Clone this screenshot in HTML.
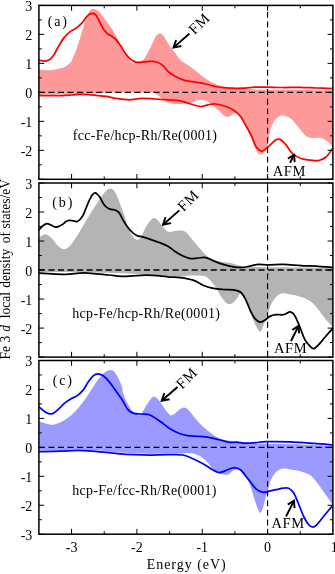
<!DOCTYPE html>
<html><head><meta charset="utf-8"><style>
html,body{margin:0;padding:0;background:#fff;}
svg{display:block;font-family:"Liberation Serif",serif;will-change:transform;}
</style></head><body>
<svg width="335" height="574" viewBox="0 0 335 574">
<rect width="335" height="574" fill="#fff"/>
<clipPath id="clipa"><rect x="38.90" y="5.40" width="294.00" height="173.90"/></clipPath>
<g clip-path="url(#clipa)">
<path d="M38.90,69.70 C40.77,69.78 46.13,70.53 50.10,70.20 C54.07,69.87 59.35,68.95 62.70,67.70 C66.05,66.45 68.48,64.40 70.20,62.70 C71.92,61.00 72.03,59.52 73.00,57.50 C73.97,55.48 74.90,53.55 76.00,50.60 C77.10,47.65 78.40,43.68 79.60,39.80 C80.80,35.92 82.00,31.18 83.20,27.30 C84.40,23.42 85.62,19.33 86.80,16.50 C87.98,13.67 89.12,11.55 90.30,10.30 C91.48,9.05 92.70,8.97 93.90,9.00 C95.10,9.03 96.32,9.68 97.50,10.50 C98.68,11.32 99.20,11.70 101.00,13.90 C102.80,16.10 105.90,20.27 108.30,23.70 C110.70,27.13 113.32,30.92 115.40,34.50 C117.48,38.08 119.00,41.62 120.80,45.20 C122.60,48.78 124.40,53.17 126.20,56.00 C128.00,58.83 129.63,61.28 131.60,62.20 C133.57,63.12 136.10,61.87 138.00,61.50 C139.90,61.13 141.50,61.25 143.00,60.00 C144.50,58.75 145.55,56.50 147.00,54.00 C148.45,51.50 150.37,47.75 151.70,45.00 C153.03,42.25 154.03,39.25 155.00,37.50 C155.97,35.75 156.67,35.15 157.50,34.50 C158.33,33.85 159.17,33.55 160.00,33.60 C160.83,33.65 161.67,34.07 162.50,34.80 C163.33,35.53 164.08,36.55 165.00,38.00 C165.92,39.45 166.67,41.50 168.00,43.50 C169.33,45.50 170.92,47.25 173.00,50.00 C175.08,52.75 178.00,57.50 180.50,60.00 C183.00,62.50 185.08,62.88 188.00,65.00 C190.92,67.12 194.67,70.20 198.00,72.70 C201.33,75.20 204.67,77.95 208.00,80.00 C211.33,82.05 213.83,83.72 218.00,85.00 C222.17,86.28 227.33,87.00 233.00,87.70 C238.67,88.40 245.83,88.82 252.00,89.20 C258.17,89.58 262.00,89.87 270.00,90.00 C278.00,90.13 289.52,89.93 300.00,90.00 C310.48,90.07 327.42,90.33 332.90,90.40 L332.90,92.35 L38.90,92.35 Z" fill="#fd9999"/>
<path d="M38.90,94.80 C46.42,94.63 72.98,94.10 84.00,93.80 C95.02,93.50 99.83,93.22 105.00,93.00 C110.17,92.78 107.50,92.58 115.00,92.50 C122.50,92.42 143.33,92.33 150.00,92.50 C156.67,92.67 153.33,92.75 155.00,93.50 C156.67,94.25 158.17,95.67 160.00,97.00 C161.83,98.33 164.00,100.42 166.00,101.50 C168.00,102.58 169.67,103.08 172.00,103.50 C174.33,103.92 177.00,104.08 180.00,104.00 C183.00,103.92 187.33,103.58 190.00,103.00 C192.67,102.42 193.50,100.92 196.00,100.50 C198.50,100.08 202.50,99.92 205.00,100.50 C207.50,101.08 208.83,102.42 211.00,104.00 C213.17,105.58 215.55,107.90 218.00,110.00 C220.45,112.10 223.58,115.63 225.70,116.60 C227.82,117.57 229.03,116.43 230.70,115.80 C232.37,115.17 234.03,112.60 235.70,112.80 C237.37,113.00 239.03,114.80 240.70,117.00 C242.37,119.20 243.98,122.67 245.70,126.00 C247.42,129.33 249.28,133.00 251.00,137.00 C252.72,141.00 254.67,147.12 256.00,150.00 C257.33,152.88 257.92,153.72 259.00,154.30 C260.08,154.88 261.42,154.22 262.50,153.50 C263.58,152.78 264.67,151.42 265.50,150.00 C266.33,148.58 266.92,147.07 267.50,145.00 C268.08,142.93 268.42,140.50 269.00,137.60 C269.58,134.70 269.83,130.73 271.00,127.60 C272.17,124.47 274.12,120.82 276.00,118.80 C277.88,116.78 279.80,115.50 282.30,115.50 C284.80,115.50 288.28,116.78 291.00,118.80 C293.72,120.82 296.27,124.90 298.60,127.60 C300.93,130.30 302.93,133.27 305.00,135.00 C307.07,136.73 308.33,137.50 311.00,138.00 C313.67,138.50 318.05,137.23 321.00,138.00 C323.95,138.77 326.75,141.00 328.70,142.60 C330.65,144.20 332.03,146.77 332.70,147.60 L332.70,92.35 L38.90,92.35 Z" fill="#fd9999"/>
<path d="M38.90,60.20 C39.75,60.37 42.32,61.23 44.00,61.20 C45.68,61.17 47.42,60.95 49.00,60.00 C50.58,59.05 52.02,57.58 53.50,55.50 C54.98,53.42 56.17,50.43 57.90,47.50 C59.63,44.57 61.90,40.50 63.90,37.90 C65.90,35.30 67.88,33.52 69.90,31.90 C71.92,30.28 74.08,29.57 76.00,28.20 C77.92,26.83 79.60,25.65 81.40,23.70 C83.20,21.75 85.32,18.13 86.80,16.50 C88.28,14.87 89.27,14.43 90.30,13.90 C91.33,13.37 92.10,13.15 93.00,13.30 C93.90,13.45 94.65,13.52 95.70,14.80 C96.75,16.08 98.10,18.77 99.30,21.00 C100.50,23.23 101.55,26.10 102.90,28.20 C104.25,30.30 105.92,32.25 107.40,33.60 C108.88,34.95 110.32,35.27 111.80,36.30 C113.28,37.33 114.80,38.17 116.30,39.80 C117.80,41.43 119.30,43.85 120.80,46.10 C122.30,48.35 123.80,51.20 125.30,53.30 C126.80,55.40 128.02,57.22 129.80,58.70 C131.58,60.18 133.97,61.62 136.00,62.20 C138.03,62.78 139.83,62.33 142.00,62.20 C144.17,62.07 146.55,61.43 149.00,61.40 C151.45,61.37 154.20,61.17 156.70,62.00 C159.20,62.83 162.12,64.82 164.00,66.40 C165.88,67.98 166.08,69.82 168.00,71.50 C169.92,73.18 172.58,74.97 175.50,76.50 C178.42,78.03 182.15,79.75 185.50,80.70 C188.85,81.65 192.25,81.65 195.60,82.20 C198.95,82.75 201.87,83.20 205.60,84.00 C209.33,84.80 213.82,86.30 218.00,87.00 C222.18,87.70 226.53,88.00 230.70,88.20 C234.87,88.40 239.45,88.35 243.00,88.20 C246.55,88.05 248.17,87.48 252.00,87.30 C255.83,87.12 260.83,87.07 266.00,87.10 C271.17,87.13 277.33,87.47 283.00,87.50 C288.67,87.53 294.50,87.22 300.00,87.30 C305.50,87.38 310.52,87.78 316.00,88.00 C321.48,88.22 330.08,88.50 332.90,88.60" fill="none" stroke="#ff0000" stroke-width="1.75" stroke-linejoin="round"/>
<path d="M38.90,95.60 C40.75,95.62 46.15,95.70 50.00,95.70 C53.85,95.70 58.33,95.72 62.00,95.60 C65.67,95.48 69.00,95.20 72.00,95.00 C75.00,94.80 77.33,94.47 80.00,94.40 C82.67,94.33 85.33,94.45 88.00,94.60 C90.67,94.75 93.00,95.00 96.00,95.30 C99.00,95.60 102.57,95.87 106.00,96.40 C109.43,96.93 112.77,97.93 116.60,98.50 C120.43,99.07 124.82,99.83 129.00,99.80 C133.18,99.77 137.37,98.43 141.70,98.30 C146.03,98.17 150.62,98.75 155.00,99.00 C159.38,99.25 163.75,99.50 168.00,99.80 C172.25,100.10 176.73,100.10 180.50,100.80 C184.27,101.50 187.25,103.05 190.60,104.00 C193.95,104.95 197.70,106.37 200.60,106.50 C203.50,106.63 205.50,105.22 208.00,104.80 C210.50,104.38 212.65,103.72 215.60,104.00 C218.55,104.28 222.80,105.53 225.70,106.50 C228.60,107.47 230.50,108.12 233.00,109.80 C235.50,111.48 238.58,114.02 240.70,116.60 C242.82,119.18 243.98,122.23 245.70,125.30 C247.42,128.37 249.28,131.48 251.00,135.00 C252.72,138.52 254.12,143.73 256.00,146.40 C257.88,149.07 260.22,151.00 262.30,151.00 C264.38,151.00 266.22,148.27 268.50,146.40 C270.78,144.53 274.08,140.97 276.00,139.80 C277.92,138.63 278.33,138.55 280.00,139.40 C281.67,140.25 283.93,142.52 286.00,144.90 C288.07,147.28 289.90,151.43 292.40,153.70 C294.90,155.97 297.90,157.42 301.00,158.50 C304.10,159.58 308.05,159.87 311.00,160.20 C313.95,160.53 316.20,161.03 318.70,160.50 C321.20,159.97 323.63,159.08 326.00,157.00 C328.37,154.92 331.75,149.50 332.90,148.00" fill="none" stroke="#ff0000" stroke-width="1.75" stroke-linejoin="round"/>
</g>
<path d="M38.90,92.35 H332.90" stroke="#000" stroke-width="1.1" stroke-dasharray="6,3.55" fill="none"/>
<path d="M267.57,5.40 V179.30" stroke="#000" stroke-width="1.15" stroke-dasharray="5.9,3.75" stroke-dashoffset="3.15" fill="none"/>
<path d="M38.90,5.40h5.30M332.90,5.40h-5.30M38.90,19.89h2.90M332.90,19.89h-2.90M38.90,34.38h5.30M332.90,34.38h-5.30M38.90,48.88h2.90M332.90,48.88h-2.90M38.90,63.37h5.30M332.90,63.37h-5.30M38.90,77.86h2.90M332.90,77.86h-2.90M38.90,92.35h5.30M332.90,92.35h-5.30M38.90,106.84h2.90M332.90,106.84h-2.90M38.90,121.33h5.30M332.90,121.33h-5.30M38.90,135.83h2.90M332.90,135.83h-2.90M38.90,150.32h5.30M332.90,150.32h-5.30M38.90,164.81h2.90M332.90,164.81h-2.90M38.90,179.30h5.30M332.90,179.30h-5.30M71.57,5.40v5.30M71.57,179.30v-5.30M104.23,5.40v2.90M104.23,179.30v-2.90M136.90,5.40v5.30M136.90,179.30v-5.30M169.57,5.40v2.90M169.57,179.30v-2.90M202.23,5.40v5.30M202.23,179.30v-5.30M234.90,5.40v2.90M234.90,179.30v-2.90M267.57,5.40v5.30M267.57,179.30v-5.30M300.23,5.40v2.90M300.23,179.30v-2.90" stroke="#000" stroke-width="1" fill="none"/>
<rect x="38.90" y="5.40" width="294.00" height="173.90" fill="none" stroke="#000" stroke-width="1.5"/>
<text x="32.3" y="11.20" font-size="14" text-anchor="end">3</text>
<text x="32.3" y="40.18" font-size="14" text-anchor="end">2</text>
<text x="32.3" y="69.17" font-size="14" text-anchor="end">1</text>
<text x="32.3" y="98.15" font-size="14" text-anchor="end">0</text>
<text x="32.3" y="127.13" font-size="14" text-anchor="end">-1</text>
<text x="32.3" y="156.12" font-size="14" text-anchor="end">-2</text>
<text x="47.70" y="25.50" font-size="14" letter-spacing="1.9">(a)</text>
<text x="72.70" y="139.50" font-size="14" textLength="144.3" lengthAdjust="spacing">fcc-Fe/hcp-Rh/Re(0001)</text>
<text x="272.80" y="175.80" font-size="14.5" textLength="32.6" lengthAdjust="spacing">AFM</text>
<path d="M290.00,162.70L294.20,154.80" stroke="#000" stroke-width="1.9" fill="none"/><path d="M294.60,162.15L294.20,154.80L287.89,158.58" stroke="#000" stroke-width="1.9" fill="none" stroke-linejoin="miter"/>
<path d="M189.30,33.80L173.50,47.60" stroke="#000" stroke-width="1.9" fill="none"/><path d="M176.14,39.98L173.50,47.60L181.40,46.01" stroke="#000" stroke-width="1.9" fill="none" stroke-linejoin="miter"/>
<text transform="translate(202.70,27.10) rotate(-45)" font-size="15" text-anchor="middle" letter-spacing="0.8">FM</text>
<clipPath id="clipb"><rect x="38.90" y="183.00" width="294.00" height="174.10"/></clipPath>
<g clip-path="url(#clipb)">
<path d="M38.90,238.00 C39.92,237.38 42.92,234.30 45.00,234.30 C47.08,234.30 49.28,236.13 51.40,238.00 C53.52,239.87 55.60,243.62 57.70,245.50 C59.80,247.38 61.92,249.30 64.00,249.30 C66.08,249.30 68.12,247.58 70.20,245.50 C72.28,243.42 74.20,240.35 76.50,236.80 C78.80,233.25 81.50,228.38 84.00,224.20 C86.50,220.02 89.00,215.67 91.50,211.70 C94.00,207.73 96.83,203.60 99.00,200.40 C101.17,197.20 103.00,194.35 104.50,192.50 C106.00,190.65 106.97,189.97 108.00,189.30 C109.03,188.63 109.78,188.38 110.70,188.50 C111.62,188.62 112.62,189.08 113.50,190.00 C114.38,190.92 115.22,192.50 116.00,194.00 C116.78,195.50 117.20,196.50 118.20,199.00 C119.20,201.50 120.87,205.92 122.00,209.00 C123.13,212.08 124.02,214.55 125.00,217.50 C125.98,220.45 126.58,223.48 127.90,226.70 C129.22,229.92 131.43,234.62 132.90,236.80 C134.37,238.98 135.45,239.60 136.70,239.80 C137.95,240.00 138.95,239.97 140.40,238.00 C141.85,236.03 143.73,230.92 145.40,228.00 C147.07,225.08 148.93,222.17 150.40,220.50 C151.87,218.83 152.93,218.00 154.20,218.00 C155.47,218.00 156.53,219.05 158.00,220.50 C159.47,221.95 161.33,224.82 163.00,226.70 C164.67,228.58 165.50,231.17 168.00,231.80 C170.50,232.43 175.08,230.50 178.00,230.50 C180.92,230.50 183.00,230.13 185.50,231.80 C188.00,233.47 190.48,237.58 193.00,240.50 C195.52,243.42 198.10,246.58 200.60,249.30 C203.10,252.02 205.10,254.80 208.00,256.80 C210.90,258.80 214.22,260.25 218.00,261.30 C221.78,262.35 226.50,262.17 230.70,263.10 C234.90,264.03 239.65,266.25 243.20,266.90 C246.75,267.55 247.53,266.95 252.00,267.00 C256.47,267.05 262.00,267.13 270.00,267.20 C278.00,267.27 289.52,267.30 300.00,267.40 C310.48,267.50 327.42,267.73 332.90,267.80 L332.90,270.05 L38.90,270.05 Z" fill="#b4b4b4"/>
<path d="M38.90,272.50 C46.42,272.45 65.48,271.87 84.00,272.20 C102.52,272.53 134.00,273.78 150.00,274.50 C166.00,275.22 173.33,276.33 180.00,276.50 C186.67,276.67 186.17,275.62 190.00,275.50 C193.83,275.38 199.83,275.22 203.00,275.80 C206.17,276.38 206.90,277.13 209.00,279.00 C211.10,280.87 213.65,284.18 215.60,287.00 C217.55,289.82 218.80,293.17 220.70,295.90 C222.60,298.63 225.12,302.15 227.00,303.40 C228.88,304.65 230.33,304.23 232.00,303.40 C233.67,302.57 235.55,300.05 237.00,298.40 C238.45,296.75 239.25,293.15 240.70,293.50 C242.15,293.85 243.98,297.08 245.70,300.50 C247.42,303.92 249.28,309.75 251.00,314.00 C252.72,318.25 254.53,323.05 256.00,326.00 C257.47,328.95 258.75,331.30 259.80,331.70 C260.85,332.10 261.43,330.18 262.30,328.40 C263.17,326.62 263.97,323.73 265.00,321.00 C266.03,318.27 267.50,314.73 268.50,312.00 C269.50,309.27 269.75,307.10 271.00,304.60 C272.25,302.10 274.12,298.88 276.00,297.00 C277.88,295.12 279.80,293.70 282.30,293.30 C284.80,292.90 287.88,293.98 291.00,294.60 C294.12,295.22 297.83,295.95 301.00,297.00 C304.17,298.05 307.27,299.00 310.00,300.90 C312.73,302.80 314.90,305.48 317.40,308.40 C319.90,311.32 322.45,315.30 325.00,318.40 C327.55,321.50 331.42,325.57 332.70,327.00 L332.70,270.05 L38.90,270.05 Z" fill="#b4b4b4"/>
<path d="M38.90,230.00 C39.50,229.33 41.18,227.07 42.50,226.00 C43.82,224.93 45.38,223.77 46.80,223.60 C48.22,223.43 49.53,224.42 51.00,225.00 C52.47,225.58 54.18,226.93 55.60,227.10 C57.02,227.27 58.27,226.50 59.50,226.00 C60.73,225.50 61.92,224.85 63.00,224.10 C64.08,223.35 64.95,222.12 66.00,221.50 C67.05,220.88 68.13,220.52 69.30,220.40 C70.47,220.28 71.73,220.60 73.00,220.80 C74.27,221.00 75.73,221.82 76.90,221.60 C78.07,221.38 78.98,220.55 80.00,219.50 C81.02,218.45 82.08,216.97 83.00,215.30 C83.92,213.63 84.63,211.58 85.50,209.50 C86.37,207.42 87.12,205.17 88.20,202.80 C89.28,200.43 90.83,196.97 92.00,195.30 C93.17,193.63 93.97,192.60 95.20,192.80 C96.43,193.00 97.85,194.42 99.40,196.50 C100.95,198.58 102.82,203.22 104.50,205.30 C106.18,207.38 107.63,208.17 109.50,209.00 C111.37,209.83 114.03,209.60 115.70,210.30 C117.37,211.00 118.12,211.30 119.50,213.20 C120.88,215.10 122.18,218.82 124.00,221.70 C125.82,224.58 128.28,228.20 130.40,230.50 C132.52,232.80 134.40,234.37 136.70,235.50 C139.00,236.63 141.70,236.58 144.20,237.30 C146.70,238.02 149.20,238.93 151.70,239.80 C154.20,240.67 156.48,241.42 159.20,242.50 C161.92,243.58 165.28,244.75 168.00,246.30 C170.72,247.85 173.00,250.18 175.50,251.80 C178.00,253.42 180.48,254.87 183.00,256.00 C185.52,257.13 188.10,258.27 190.60,258.60 C193.10,258.93 195.50,258.17 198.00,258.00 C200.50,257.83 203.10,257.17 205.60,257.60 C208.10,258.03 210.10,259.47 213.00,260.60 C215.90,261.73 219.63,263.35 223.00,264.40 C226.37,265.45 229.83,266.40 233.20,266.90 C236.57,267.40 240.07,267.62 243.20,267.40 C246.33,267.18 249.45,266.10 252.00,265.60 C254.55,265.10 255.75,264.52 258.50,264.40 C261.25,264.28 264.32,264.90 268.50,264.90 C272.68,264.90 278.18,264.28 283.60,264.40 C289.02,264.52 295.60,265.32 301.00,265.60 C306.40,265.88 310.72,265.80 316.00,266.10 C321.28,266.40 329.92,267.18 332.70,267.40" fill="none" stroke="#000000" stroke-width="1.75" stroke-linejoin="round"/>
<path d="M38.90,273.10 C43.28,273.32 57.68,274.45 65.20,274.40 C72.72,274.35 76.70,272.70 84.00,272.80 C91.30,272.90 102.73,274.42 109.00,275.00 C115.27,275.58 115.32,276.27 121.60,276.30 C127.88,276.33 138.97,275.12 146.70,275.20 C154.43,275.28 162.37,276.40 168.00,276.80 C173.63,277.20 176.33,277.03 180.50,277.60 C184.67,278.17 189.25,278.93 193.00,280.20 C196.75,281.47 199.83,283.87 203.00,285.20 C206.17,286.53 208.67,287.48 212.00,288.20 C215.33,288.92 219.50,289.23 223.00,289.50 C226.50,289.77 230.05,289.33 233.00,289.80 C235.95,290.27 238.58,290.63 240.70,292.30 C242.82,293.97 243.98,296.52 245.70,299.80 C247.42,303.08 249.48,308.90 251.00,312.00 C252.52,315.10 253.33,316.70 254.80,318.40 C256.27,320.10 258.13,321.90 259.80,322.20 C261.47,322.50 263.13,321.17 264.80,320.20 C266.47,319.23 267.93,317.32 269.80,316.40 C271.67,315.48 273.70,314.98 276.00,314.70 C278.30,314.42 281.22,315.17 283.60,314.70 C285.98,314.23 288.42,311.70 290.30,311.90 C292.18,312.10 293.30,313.35 294.90,315.90 C296.50,318.45 298.23,323.23 299.90,327.20 C301.57,331.17 303.23,336.57 304.90,339.70 C306.57,342.83 308.43,344.52 309.90,346.00 C311.37,347.48 312.23,348.82 313.70,348.60 C315.17,348.38 316.82,346.60 318.70,344.70 C320.58,342.80 322.67,339.92 325.00,337.20 C327.33,334.48 331.42,329.87 332.70,328.40" fill="none" stroke="#000000" stroke-width="1.75" stroke-linejoin="round"/>
</g>
<path d="M38.90,270.00 H332.90" stroke="#000" stroke-width="1.6" stroke-dasharray="6,3.55" fill="none"/>
<path d="M267.57,183.00 V357.10" stroke="#000" stroke-width="1.15" stroke-dasharray="5.9,3.75" stroke-dashoffset="5.9" fill="none"/>
<path d="M38.90,183.00h5.30M332.90,183.00h-5.30M38.90,197.51h2.90M332.90,197.51h-2.90M38.90,212.02h5.30M332.90,212.02h-5.30M38.90,226.53h2.90M332.90,226.53h-2.90M38.90,241.03h5.30M332.90,241.03h-5.30M38.90,255.54h2.90M332.90,255.54h-2.90M38.90,270.05h5.30M332.90,270.05h-5.30M38.90,284.56h2.90M332.90,284.56h-2.90M38.90,299.07h5.30M332.90,299.07h-5.30M38.90,313.58h2.90M332.90,313.58h-2.90M38.90,328.08h5.30M332.90,328.08h-5.30M38.90,342.59h2.90M332.90,342.59h-2.90M38.90,357.10h5.30M332.90,357.10h-5.30M71.57,183.00v5.30M71.57,357.10v-5.30M104.23,183.00v2.90M104.23,357.10v-2.90M136.90,183.00v5.30M136.90,357.10v-5.30M169.57,183.00v2.90M169.57,357.10v-2.90M202.23,183.00v5.30M202.23,357.10v-5.30M234.90,183.00v2.90M234.90,357.10v-2.90M267.57,183.00v5.30M267.57,357.10v-5.30M300.23,183.00v2.90M300.23,357.10v-2.90" stroke="#000" stroke-width="1" fill="none"/>
<rect x="38.90" y="183.00" width="294.00" height="174.10" fill="none" stroke="#000" stroke-width="1.5"/>
<text x="32.3" y="188.80" font-size="14" text-anchor="end">3</text>
<text x="32.3" y="217.82" font-size="14" text-anchor="end">2</text>
<text x="32.3" y="246.83" font-size="14" text-anchor="end">1</text>
<text x="32.3" y="275.85" font-size="14" text-anchor="end">0</text>
<text x="32.3" y="304.87" font-size="14" text-anchor="end">-1</text>
<text x="32.3" y="333.88" font-size="14" text-anchor="end">-2</text>
<text x="52.30" y="206.50" font-size="14" letter-spacing="1.9">(b)</text>
<text x="72.20" y="318.40" font-size="14" textLength="147.8" lengthAdjust="spacing">hcp-Fe/hcp-Rh/Re(0001)</text>
<text x="274.00" y="353.30" font-size="14.5" textLength="32.6" lengthAdjust="spacing">AFM</text>
<path d="M291.00,341.00L298.60,326.00" stroke="#000" stroke-width="1.9" fill="none"/><path d="M299.14,333.34L298.60,326.00L292.36,329.90" stroke="#000" stroke-width="1.9" fill="none" stroke-linejoin="miter"/>
<path d="M179.30,210.40L163.00,224.70" stroke="#000" stroke-width="1.9" fill="none"/><path d="M165.62,217.08L163.00,224.70L170.90,223.09" stroke="#000" stroke-width="1.9" fill="none" stroke-linejoin="miter"/>
<text transform="translate(191.70,204.10) rotate(-45)" font-size="15" text-anchor="middle" letter-spacing="0.8">FM</text>
<clipPath id="clipc"><rect x="38.90" y="360.50" width="294.00" height="173.70"/></clipPath>
<g clip-path="url(#clipc)">
<path d="M38.90,421.30 C40.00,421.65 43.15,422.83 45.50,423.40 C47.85,423.97 50.48,424.90 53.00,424.70 C55.52,424.50 58.08,423.37 60.60,422.20 C63.12,421.03 65.60,419.58 68.10,417.70 C70.60,415.82 73.10,413.50 75.60,410.90 C78.10,408.30 80.58,405.45 83.10,402.10 C85.62,398.75 88.18,394.55 90.70,390.80 C93.22,387.05 95.90,382.65 98.20,379.60 C100.50,376.55 102.62,374.05 104.50,372.50 C106.38,370.95 108.05,370.58 109.50,370.30 C110.95,370.02 111.95,369.88 113.20,370.80 C114.45,371.72 115.87,373.93 117.00,375.80 C118.13,377.67 119.17,380.13 120.00,382.00 C120.83,383.87 121.33,384.70 122.00,387.00 C122.67,389.30 122.60,392.23 124.00,395.80 C125.40,399.37 128.28,405.27 130.40,408.40 C132.52,411.53 135.03,413.50 136.70,414.60 C138.37,415.70 138.95,416.27 140.40,415.00 C141.85,413.73 143.73,409.57 145.40,407.00 C147.07,404.43 148.93,401.33 150.40,399.60 C151.87,397.87 152.73,396.40 154.20,396.60 C155.67,396.80 157.53,398.90 159.20,400.80 C160.87,402.70 162.73,405.97 164.20,408.00 C165.67,410.03 166.82,411.75 168.00,413.00 C169.18,414.25 170.13,415.42 171.30,415.50 C172.47,415.58 173.63,414.50 175.00,413.50 C176.37,412.50 178.02,410.50 179.50,409.50 C180.98,408.50 182.48,407.50 183.90,407.50 C185.32,407.50 186.55,408.25 188.00,409.50 C189.45,410.75 190.60,412.62 192.60,415.00 C194.60,417.38 197.10,420.87 200.00,423.80 C202.90,426.73 207.05,430.30 210.00,432.60 C212.95,434.90 215.20,436.37 217.70,437.60 C220.20,438.83 222.28,439.40 225.00,440.00 C227.72,440.60 231.17,440.88 234.00,441.20 C236.83,441.52 239.33,441.60 242.00,441.90 C244.67,442.20 247.00,442.70 250.00,443.00 C253.00,443.30 251.67,443.47 260.00,443.70 C268.33,443.93 287.85,444.03 300.00,444.40 C312.15,444.77 327.42,445.65 332.90,445.90 L332.90,447.35 L38.90,447.35 Z" fill="#9a9aff"/>
<path d="M38.90,450.60 C42.42,450.53 53.48,450.38 60.00,450.20 C66.52,450.02 72.17,449.48 78.00,449.50 C83.83,449.52 89.83,449.97 95.00,450.30 C100.17,450.63 104.83,451.12 109.00,451.50 C113.17,451.88 115.83,452.30 120.00,452.60 C124.17,452.90 129.17,453.12 134.00,453.30 C138.83,453.48 143.33,453.67 149.00,453.70 C154.67,453.73 162.83,453.53 168.00,453.50 C173.17,453.47 176.33,453.58 180.00,453.50 C183.67,453.42 186.67,452.58 190.00,453.00 C193.33,453.42 197.00,454.33 200.00,456.00 C203.00,457.67 205.50,460.50 208.00,463.00 C210.50,465.50 212.67,469.18 215.00,471.00 C217.33,472.82 219.83,473.30 222.00,473.90 C224.17,474.50 226.00,475.25 228.00,474.60 C230.00,473.95 231.88,470.68 234.00,470.00 C236.12,469.32 238.53,469.08 240.70,470.50 C242.87,471.92 245.28,475.63 247.00,478.50 C248.72,481.37 249.70,484.08 251.00,487.70 C252.30,491.32 253.55,496.45 254.80,500.20 C256.05,503.95 257.55,508.12 258.50,510.20 C259.45,512.28 259.75,513.12 260.50,512.70 C261.25,512.28 262.17,510.20 263.00,507.70 C263.83,505.20 264.67,500.65 265.50,497.70 C266.33,494.75 267.28,492.50 268.00,490.00 C268.72,487.50 268.87,485.20 269.80,482.70 C270.73,480.20 272.13,477.12 273.60,475.00 C275.07,472.88 276.93,471.10 278.60,470.00 C280.27,468.90 281.53,468.50 283.60,468.40 C285.67,468.30 288.10,468.90 291.00,469.40 C293.90,469.90 297.83,470.47 301.00,471.40 C304.17,472.33 307.47,473.33 310.00,475.00 C312.53,476.67 314.12,478.87 316.20,481.40 C318.28,483.93 320.42,487.27 322.50,490.20 C324.58,493.13 327.00,496.50 328.70,499.00 C330.40,501.50 332.03,504.17 332.70,505.20 L332.70,447.35 L38.90,447.35 Z" fill="#9a9aff"/>
<path d="M38.90,406.80 C40.00,407.70 43.35,411.02 45.50,412.20 C47.65,413.38 49.72,414.33 51.80,413.90 C53.88,413.47 55.92,411.35 58.00,409.60 C60.08,407.85 62.20,405.18 64.30,403.40 C66.40,401.62 68.50,400.15 70.60,398.90 C72.70,397.65 74.82,397.37 76.90,395.90 C78.98,394.43 81.22,392.40 83.10,390.10 C84.98,387.80 86.52,384.48 88.20,382.10 C89.88,379.72 91.62,377.18 93.20,375.80 C94.78,374.42 96.03,373.80 97.70,373.80 C99.37,373.80 101.23,374.42 103.20,375.80 C105.17,377.18 107.42,379.60 109.50,382.10 C111.58,384.60 113.62,387.88 115.70,390.80 C117.78,393.72 119.97,396.47 122.00,399.60 C124.03,402.73 125.90,407.30 127.90,409.60 C129.90,411.90 131.70,412.67 134.00,413.40 C136.30,414.13 139.03,413.73 141.70,414.00 C144.37,414.27 146.95,413.78 150.00,415.00 C153.05,416.22 156.67,419.00 160.00,421.30 C163.33,423.60 166.67,426.72 170.00,428.80 C173.33,430.88 177.07,432.67 180.00,433.80 C182.93,434.93 184.27,435.18 187.60,435.60 C190.93,436.02 196.27,435.97 200.00,436.30 C203.73,436.63 206.67,436.98 210.00,437.60 C213.33,438.22 216.67,439.22 220.00,440.00 C223.33,440.78 227.33,441.93 230.00,442.30 C232.67,442.67 233.33,442.05 236.00,442.20 C238.67,442.35 242.67,443.13 246.00,443.20 C249.33,443.27 252.67,442.85 256.00,442.60 C259.33,442.35 260.33,441.82 266.00,441.70 C271.67,441.58 282.05,441.63 290.00,441.90 C297.95,442.17 306.55,442.82 313.70,443.30 C320.85,443.78 329.70,444.55 332.90,444.80" fill="none" stroke="#0000ff" stroke-width="1.75" stroke-linejoin="round"/>
<path d="M38.90,451.60 C42.42,451.53 53.48,451.40 60.00,451.20 C66.52,451.00 72.17,450.38 78.00,450.40 C83.83,450.42 89.83,450.93 95.00,451.30 C100.17,451.67 104.83,452.18 109.00,452.60 C113.17,453.02 115.83,453.47 120.00,453.80 C124.17,454.13 129.17,454.40 134.00,454.60 C138.83,454.80 143.33,455.00 149.00,455.00 C154.67,455.00 162.33,454.60 168.00,454.60 C173.67,454.60 178.83,454.30 183.00,455.00 C187.17,455.70 189.67,457.33 193.00,458.80 C196.33,460.27 199.67,461.93 203.00,463.80 C206.33,465.67 210.27,468.53 213.00,470.00 C215.73,471.47 217.07,472.60 219.40,472.60 C221.73,472.60 224.48,470.83 227.00,470.00 C229.52,469.17 232.22,467.60 234.50,467.60 C236.78,467.60 238.62,468.33 240.70,470.00 C242.78,471.67 245.28,475.48 247.00,477.60 C248.72,479.72 249.50,480.82 251.00,482.70 C252.50,484.58 254.12,487.32 256.00,488.90 C257.88,490.48 260.22,491.78 262.30,492.20 C264.38,492.62 266.22,491.82 268.50,491.40 C270.78,490.98 273.48,490.23 276.00,489.70 C278.52,489.17 281.50,488.45 283.60,488.20 C285.70,487.95 286.93,487.45 288.60,488.20 C290.27,488.95 291.93,490.07 293.60,492.70 C295.27,495.33 296.92,500.03 298.60,504.00 C300.28,507.97 302.02,513.03 303.70,516.50 C305.38,519.97 307.25,523.05 308.70,524.80 C310.15,526.55 311.15,526.92 312.40,527.00 C313.65,527.08 314.52,526.83 316.20,525.30 C317.88,523.77 320.42,520.32 322.50,517.80 C324.58,515.28 326.95,512.30 328.70,510.20 C330.45,508.10 332.28,506.03 333.00,505.20" fill="none" stroke="#0000ff" stroke-width="1.75" stroke-linejoin="round"/>
</g>
<path d="M38.90,447.35 H332.90" stroke="#000" stroke-width="1.1" stroke-dasharray="6,3.55" fill="none"/>
<path d="M267.57,360.50 V534.20" stroke="#000" stroke-width="1.15" stroke-dasharray="5.9,3.75" stroke-dashoffset="5.0" fill="none"/>
<path d="M38.90,360.50h5.30M332.90,360.50h-5.30M38.90,374.98h2.90M332.90,374.98h-2.90M38.90,389.45h5.30M332.90,389.45h-5.30M38.90,403.93h2.90M332.90,403.93h-2.90M38.90,418.40h5.30M332.90,418.40h-5.30M38.90,432.88h2.90M332.90,432.88h-2.90M38.90,447.35h5.30M332.90,447.35h-5.30M38.90,461.83h2.90M332.90,461.83h-2.90M38.90,476.30h5.30M332.90,476.30h-5.30M38.90,490.78h2.90M332.90,490.78h-2.90M38.90,505.25h5.30M332.90,505.25h-5.30M38.90,519.73h2.90M332.90,519.73h-2.90M38.90,534.20h5.30M332.90,534.20h-5.30M71.57,360.50v5.30M71.57,534.20v-5.30M104.23,360.50v2.90M104.23,534.20v-2.90M136.90,360.50v5.30M136.90,534.20v-5.30M169.57,360.50v2.90M169.57,534.20v-2.90M202.23,360.50v5.30M202.23,534.20v-5.30M234.90,360.50v2.90M234.90,534.20v-2.90M267.57,360.50v5.30M267.57,534.20v-5.30M300.23,360.50v2.90M300.23,534.20v-2.90" stroke="#000" stroke-width="1" fill="none"/>
<rect x="38.90" y="360.50" width="294.00" height="173.70" fill="none" stroke="#000" stroke-width="1.5"/>
<text x="32.3" y="366.30" font-size="14" text-anchor="end">3</text>
<text x="32.3" y="395.25" font-size="14" text-anchor="end">2</text>
<text x="32.3" y="424.20" font-size="14" text-anchor="end">1</text>
<text x="32.3" y="453.15" font-size="14" text-anchor="end">0</text>
<text x="32.3" y="482.10" font-size="14" text-anchor="end">-1</text>
<text x="32.3" y="511.05" font-size="14" text-anchor="end">-2</text>
<text x="32.3" y="540.00" font-size="14" text-anchor="end">-3</text>
<text x="52.70" y="384.50" font-size="14" letter-spacing="1.9">(c)</text>
<text x="72.20" y="495.00" font-size="14" textLength="144.3" lengthAdjust="spacing">hcp-Fe/fcc-Rh/Re(0001)</text>
<text x="271.50" y="528.20" font-size="14.5" textLength="32.6" lengthAdjust="spacing">AFM</text>
<path d="M286.00,516.50L294.00,500.70" stroke="#000" stroke-width="1.9" fill="none"/><path d="M294.54,508.04L294.00,500.70L287.76,504.60" stroke="#000" stroke-width="1.9" fill="none" stroke-linejoin="miter"/>
<path d="M177.50,387.00L161.70,400.80" stroke="#000" stroke-width="1.9" fill="none"/><path d="M164.34,393.18L161.70,400.80L169.60,399.21" stroke="#000" stroke-width="1.9" fill="none" stroke-linejoin="miter"/>
<text transform="translate(190.20,381.60) rotate(-45)" font-size="15" text-anchor="middle" letter-spacing="0.8">FM</text>
<text x="71.57" y="552.3" font-size="14" text-anchor="middle">-3</text>
<text x="136.90" y="552.3" font-size="14" text-anchor="middle">-2</text>
<text x="202.23" y="552.3" font-size="14" text-anchor="middle">-1</text>
<text x="267.57" y="552.3" font-size="14" text-anchor="middle">0</text>
<text x="334.30" y="552.3" font-size="14" text-anchor="middle">1</text>
<text x="146.7" y="569.3" font-size="14" textLength="79" lengthAdjust="spacing">Energy (eV)</text>
<text transform="translate(10,359.9) rotate(-90) scale(1,1.1)" font-size="13.5"><tspan x="0.5">Fe</tspan><tspan x="17.4">3</tspan><tspan x="28.2" font-style="italic">d</tspan><tspan x="41.7">local</tspan><tspan x="72.2">density</tspan><tspan x="116.6">of</tspan><tspan x="131.4">states/eV</tspan></text>
</svg></body></html>
